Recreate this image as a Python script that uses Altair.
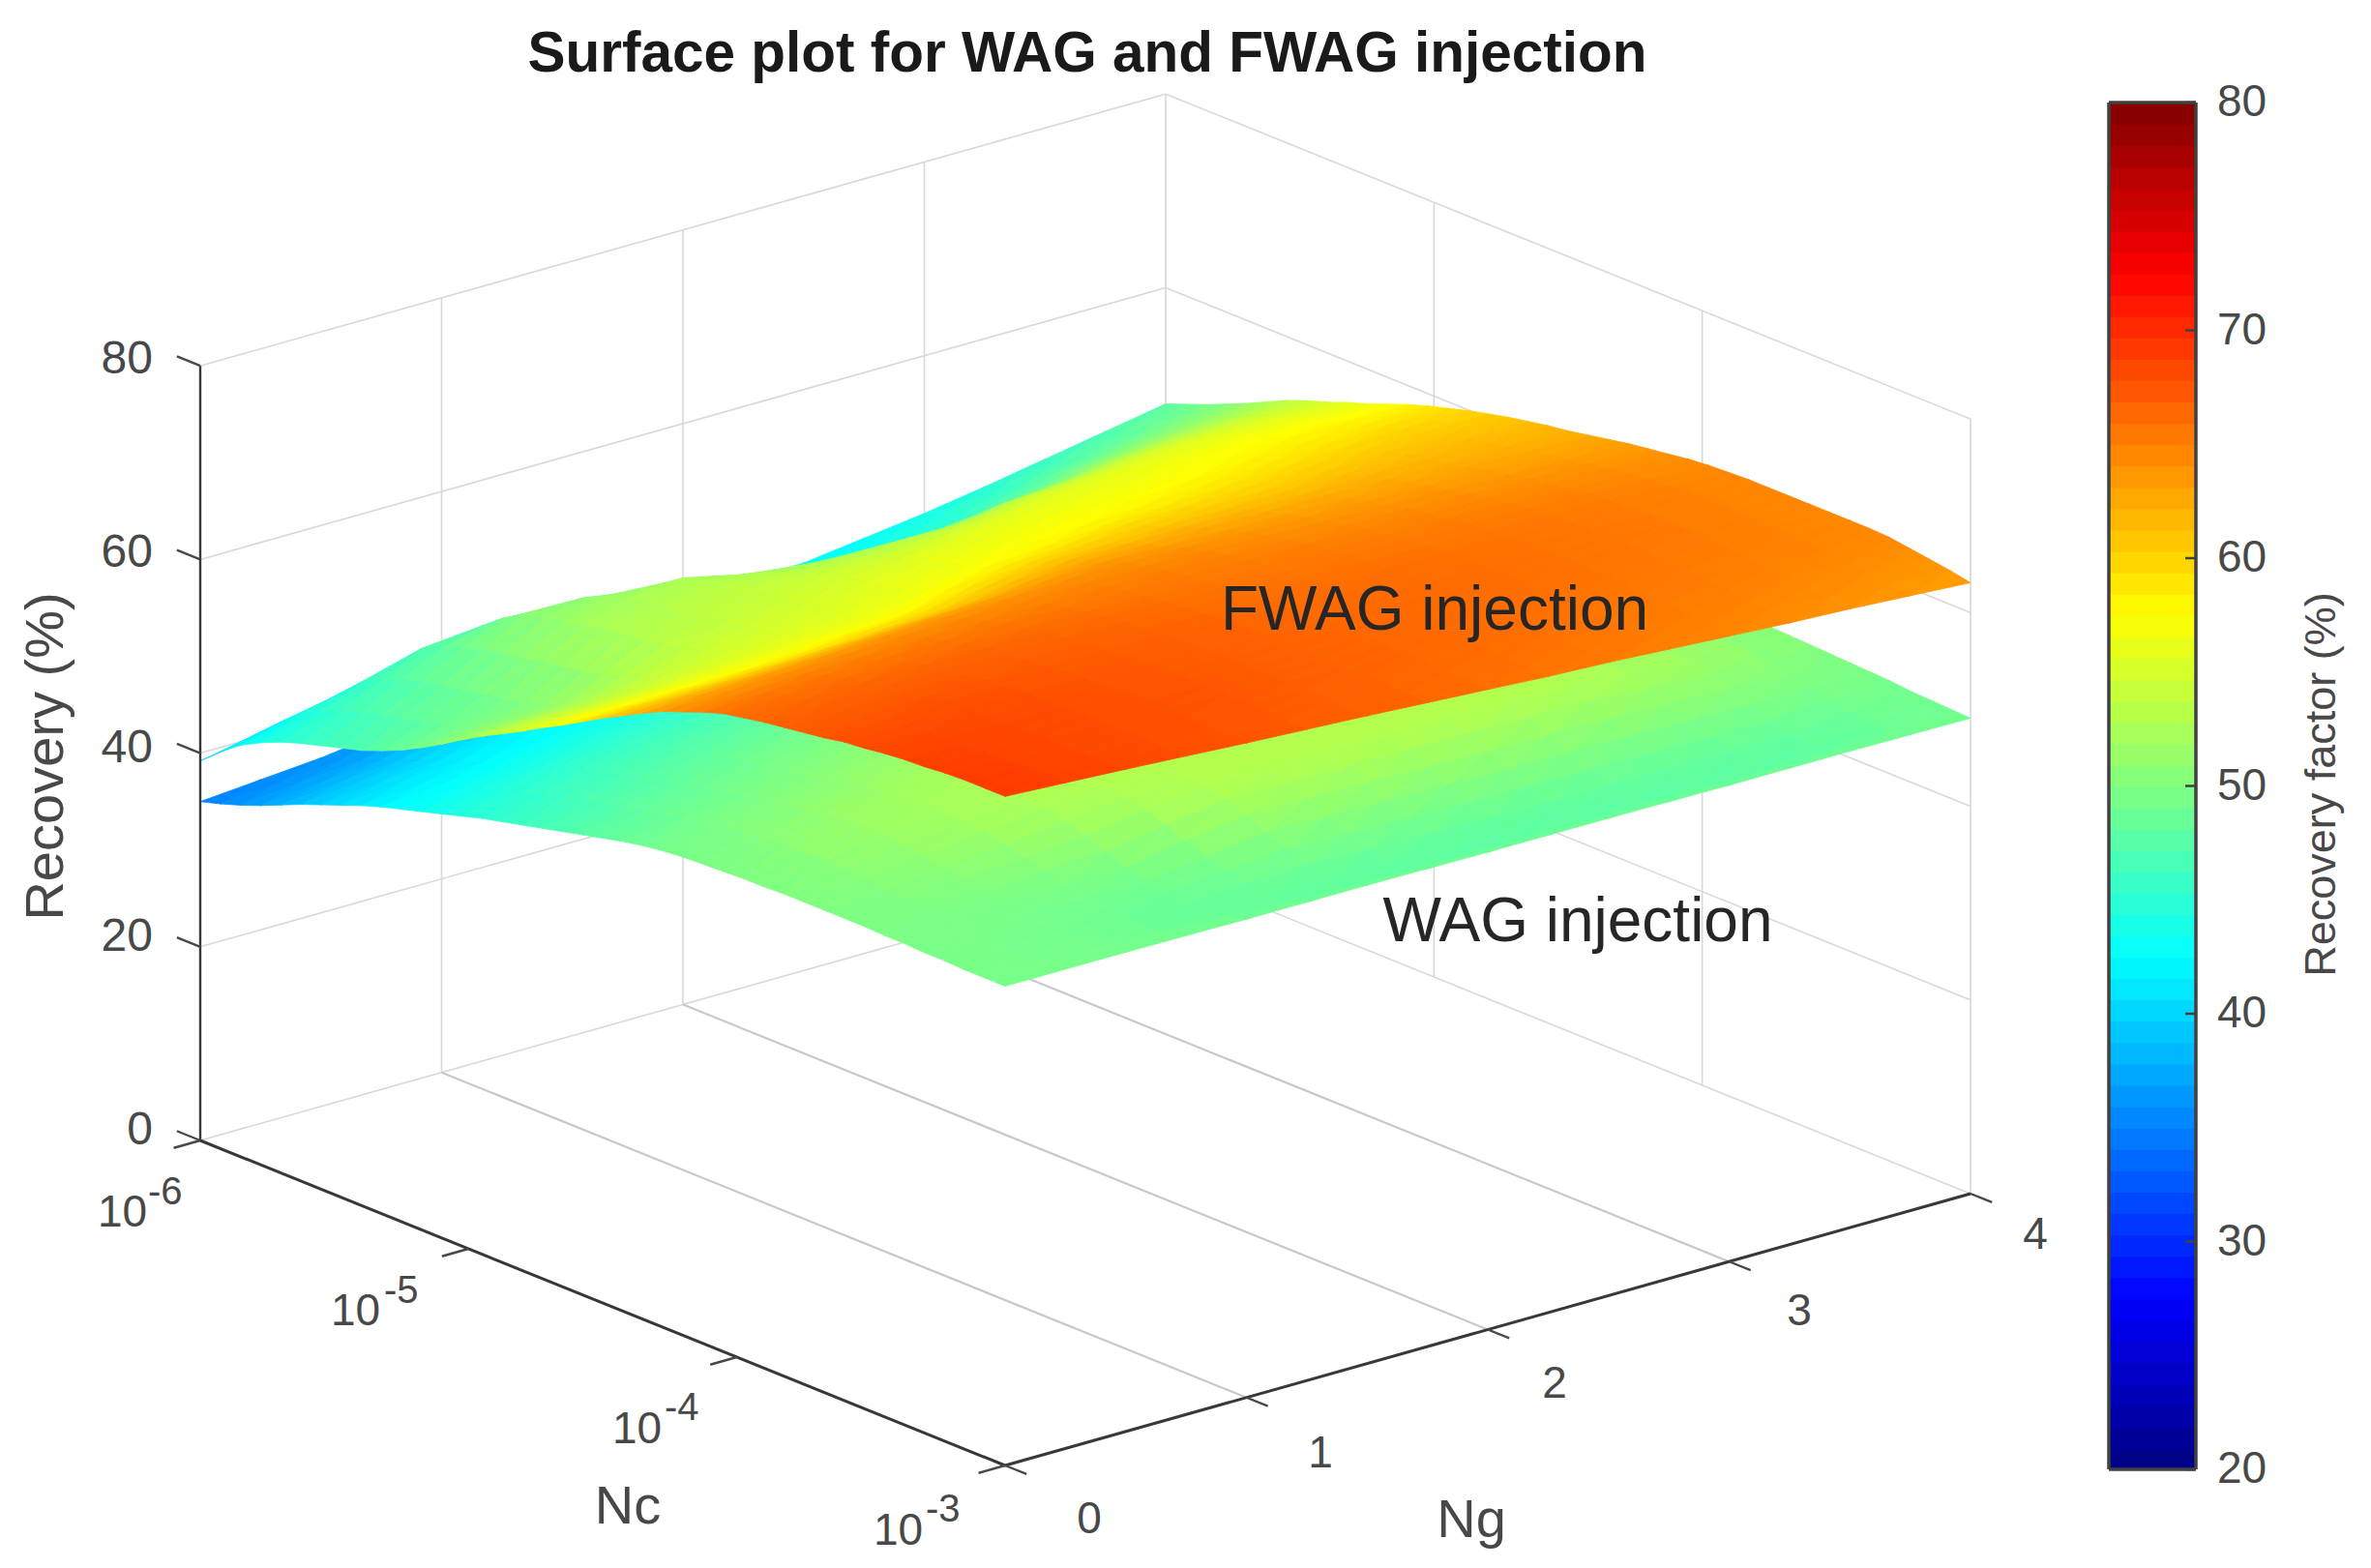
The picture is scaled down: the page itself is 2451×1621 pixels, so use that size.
import altair as alt
import pandas as pd

# ---------- values ----------
LOG_NC = [-6.0 + 0.075 * j for j in range(41)]
NG = [0.25 * k for k in range(17)]

FWAG = [
 [39.2,41,42.5,43.6,44.5,45.2,45.8,46.4,47,47.8,48.7,49.8,51,52.3,53.5,54.6,55.7,56.9,58,59.2,60.4,61.5,62.6,63.6,64.4,65.2,65.9,66.3,66.7,67,67.3,67.6,68,68.2,68.5,68.7,68.8,69,69.1,69.1,69.1],
 [40.1,42.3,44,45.1,46,46.6,47.2,47.7,48.2,48.7,49.4,50.3,51.3,52.5,53.7,54.8,55.9,57,58.1,59.3,60.5,61.7,62.8,63.8,64.6,65.4,66,66.4,66.8,67.1,67.4,67.7,68,68.2,68.4,68.5,68.6,68.6,68.7,68.8,68.75],
 [41,43.5,45.5,46.6,47.5,48,48.5,48.9,49.3,49.6,50,50.7,51.6,52.7,53.8,54.9,56,57.1,58.2,59.4,60.6,61.8,63,64,64.8,65.5,66,66.5,66.9,67.2,67.5,67.8,68,68.2,68.3,68.3,68.3,68.3,68.3,68.4,68.4],
 [41.9,45,47.2,48.2,49,49.5,50,50.4,50.9,51.2,51.5,52.1,52.8,53.6,54.4,55.3,56.2,57.2,58.3,59.5,60.8,62,63.2,64.2,64.9,65.5,66,66.5,66.9,67.1,67.4,67.6,67.8,67.9,68,68,68,68,68,68,68],
 [42.8,45.8,47.8,49.4,50.7,51.1,51.6,52,52.5,52.8,53,53.5,54,54.5,55,55.7,56.5,57.4,58.5,59.7,61,62.3,63.5,64.4,65,65.6,66.1,66.5,66.8,67,67.2,67.4,67.5,67.6,67.7,67.8,67.8,67.8,67.7,67.6,67.6],
 [42.9,45.2,47,48.9,50.6,51.6,52.3,52.7,53.1,53.4,53.7,54,54.5,55,55.4,56,56.8,57.7,58.9,60,61.3,62.6,63.7,64.5,65,65.6,66,66.4,66.7,66.9,67.1,67.2,67.3,67.4,67.4,67.5,67.5,67.4,67.4,67.3,67.25],
 [43,44.2,45.5,47.5,49.6,51.2,52.6,53.2,53.7,54,54.3,54.6,55,55.4,55.8,56.3,57,58,59.2,60.3,61.5,62.8,63.8,64.5,65,65.5,65.9,66.2,66.5,66.7,66.9,67,67,67.1,67.1,67.1,67.1,67,67,66.9,66.9],
 [42.5,43.4,44.4,45.8,47.6,49.6,51.2,52.3,53.1,53.9,54.6,55.1,55.5,56,56.4,57,57.9,58.9,60,61,62.1,63.1,64,64.6,65,65.4,65.7,66,66.2,66.4,66.6,66.7,66.7,66.8,66.8,66.8,66.8,66.7,66.7,66.6,66.5],
 [42,42.6,43.2,44,45.5,48,50.4,51.7,52.9,53.8,54.6,55.4,56,56.5,57,57.7,58.7,59.7,60.7,61.7,62.6,63.4,64.1,64.6,65,65.3,65.5,65.7,65.9,66.1,66.2,66.3,66.4,66.5,66.5,66.5,66.5,66.4,66.3,66.2,66.1],
 [42,42.6,43.2,44,45.4,47.7,50.1,51.6,53,54,55,55.9,56.4,56.9,57.4,58.1,59.1,60,60.8,61.7,62.5,63.2,63.9,64.4,64.8,65.1,65.4,65.6,65.8,66,66.2,66.2,66.3,66.3,66.3,66.3,66.2,66.1,66,65.9,65.7],
 [42.1,42.7,43.3,44,45.3,47.5,50,51.5,53,54.4,55.5,56.3,56.8,57.3,57.8,58.6,59.5,60.3,61,61.8,62.5,63.1,63.7,64.2,64.6,65,65.3,65.6,65.8,66,66.1,66.2,66.2,66.2,66.2,66.1,66,65.9,65.7,65.6,65.4],
 [42.9,43.6,44.3,45.3,46.6,48.5,50.6,52.4,53.9,55.1,56,56.5,57,57.5,58.1,58.8,59.6,60.3,61,61.7,62.4,63,63.5,64,64.4,64.8,65.1,65.4,65.6,65.8,65.9,66,66,66,65.9,65.8,65.7,65.6,65.4,65.2,65],
 [43.7,44.5,45.4,46.7,48,49.5,51.2,52.8,54.2,55.4,56.3,56.8,57.2,57.8,58.4,59.1,59.8,60.4,61.1,61.7,62.4,62.9,63.4,63.9,64.3,64.7,65,65.3,65.5,65.7,65.8,65.8,65.8,65.8,65.7,65.6,65.5,65.3,65.1,64.9,64.6],
 [44.7,45.7,46.7,48,49.3,50.7,52.2,53.6,54.9,55.9,56.6,57.2,57.6,58.2,58.8,59.4,60.1,60.6,61.2,61.8,62.3,62.8,63.3,63.7,64.1,64.5,64.8,65.1,65.3,65.5,65.6,65.6,65.6,65.5,65.4,65.3,65.2,65,64.8,64.6,64.2],
 [45.8,46.8,47.8,49,50.3,51.5,52.8,54,55.1,56,56.7,57.4,58,58.5,59.1,59.7,60.3,60.8,61.3,61.8,62.2,62.7,63.1,63.5,63.9,64.3,64.6,64.9,65.1,65.2,65.3,65.3,65.3,65.2,65.1,65,64.9,64.7,64.5,64.2,63.9],
 [46.9,47.8,48.7,49.8,50.9,52,53.1,54.2,55.1,56,56.6,57.3,58,58.6,59.3,59.9,60.4,60.9,61.3,61.7,62.1,62.5,62.9,63.3,63.7,64.1,64.4,64.6,64.8,64.9,64.9,64.9,64.9,64.9,64.8,64.8,64.7,64.4,64.2,63.8,63.5],
 [48,48.8,49.6,50.5,51.4,52.4,53.4,54.2,54.9,55.7,56.4,57.2,58,58.7,59.3,59.9,60.4,60.9,61.3,61.7,62,62.4,62.8,63.2,63.5,63.8,64.1,64.3,64.4,64.5,64.5,64.5,64.5,64.5,64.5,64.5,64.4,64.1,63.8,63.5,63.1],
]
WAG = [
 [35,35.6,36.3,37.1,38,38.9,39.7,40.5,41.3,42,42.6,43.2,43.8,44.4,45,45.5,46,46.5,47,47.5,48,48.5,48.9,49.2,49.4,49.5,49.6,49.7,49.7,49.8,49.8,49.8,49.8,49.8,49.7,49.7,49.6,49.6,49.5,49.5,49.5],
 [35.5,36.1,36.9,37.7,38.6,39.5,40.3,41.1,41.8,42.5,43.1,43.8,44.5,45.1,45.7,46.2,46.7,47.2,47.7,48.2,48.6,49.1,49.5,49.8,50.1,50.4,50.6,50.7,50.7,50.6,50.4,50.2,50,49.9,49.7,49.6,49.5,49.4,49.4,49.4,49.5],
 [36,36.6,37.4,38.3,39.2,40.1,40.9,41.6,42.2,42.9,43.6,44.4,45.2,45.8,46.4,46.9,47.4,47.9,48.4,48.8,49.2,49.6,50,50.4,50.8,51.2,51.5,51.6,51.6,51.3,51,50.6,50.2,49.9,49.6,49.4,49.3,49.2,49.2,49.3,49.5],
 [36.8,37.4,38.2,39.2,40.1,40.9,41.6,42.2,42.8,43.5,44.2,45,45.7,46.3,46.9,47.5,48,48.5,49,49.4,49.8,50.2,50.6,51,51.4,51.7,52,52.1,52.1,52,51.8,51.3,50.8,50.2,49.7,49.3,49,48.9,48.8,49,49.45],
 [37.5,38.2,39,40,41,41.7,42.3,42.7,43.3,44,44.8,45.5,46.2,46.8,47.4,48,48.5,49,49.5,50,50.4,50.8,51.2,51.6,51.9,52.2,52.4,52.5,52.6,52.6,52.5,52,51.3,50.5,49.7,49.1,48.8,48.5,48.4,48.7,49.4],
 [38,38.7,39.5,40.4,41.2,42,42.7,43.3,43.9,44.7,45.4,46,46.6,47.2,47.7,48.2,48.8,49.2,49.8,50.2,50.6,51,51.3,51.6,52,52.2,52.4,52.6,52.8,52.8,52.8,52.5,52.2,51.5,50.7,49.9,49.3,48.8,48.3,48.5,49.4],
 [38.5,39.2,40,40.8,41.5,42.2,43,43.8,44.5,45.3,46,46.5,47,47.5,48,48.5,49,49.5,50,50.4,50.7,51.1,51.4,51.7,52,52.3,52.5,52.7,52.9,53,53,53,53,52.4,51.6,50.7,49.8,49,48.2,48.3,49.4],
 [38.8,39.4,40,40.8,41.5,42.2,43,43.8,44.5,45.3,46,46.5,47,47.5,48,48.5,49,49.5,50,50.4,50.7,51,51.3,51.6,51.9,52.2,52.4,52.6,52.8,52.9,53,53,53,52.4,51.5,50.5,49.6,48.8,48.1,48.3,49.35],
 [39,39.5,40,40.7,41.5,42.2,43,43.8,44.5,45.3,46,46.5,47,47.5,48,48.5,49,49.5,50,50.4,50.7,51,51.3,51.6,51.8,52.1,52.3,52.5,52.7,52.8,52.9,53,53,52.3,51.4,50.4,49.4,48.6,47.9,48.2,49.3],
 [39.2,39.7,40.2,41,41.7,42.5,43.2,44,44.7,45.4,46,46.5,47,47.5,48,48.5,49,49.5,50,50.4,50.7,51,51.3,51.6,51.8,52,52.2,52.4,52.6,52.8,53,53,53,52.2,51.3,50.3,49.3,48.5,47.9,48.2,49.3],
 [39.5,40,40.5,41.2,42,42.8,43.5,44.3,45,45.5,46,46.5,47,47.5,48,48.5,49,49.5,50,50.4,50.7,51,51.3,51.6,51.8,52,52.2,52.4,52.6,52.8,53,53,53,52.2,51.2,50.2,49.2,48.4,47.9,48.2,49.3],
 [39.8,40.2,40.8,41.5,42.2,43,43.8,44.4,45,45.5,46,46.5,47,47.5,48,48.5,49,49.4,49.9,50.3,50.6,50.9,51.2,51.4,51.6,51.8,52,52.2,52.3,52.6,52.9,52.9,52.9,52.1,51.1,50.1,49.2,48.4,47.9,48.2,49.25],
 [40,40.5,41,41.7,42.5,43.2,44,44.5,45,45.5,46,46.5,47,47.5,48,48.5,49,49.4,49.8,50.2,50.5,50.8,51,51.3,51.5,51.7,51.8,51.9,52,52.4,52.8,52.8,52.8,52,51,50,49.1,48.4,47.9,48.2,49.2],
 [40.2,40.7,41.2,42,42.7,43.4,44,44.5,45,45.5,46,46.5,47,47.5,48,48.4,48.9,49.3,49.7,50,50.2,50.5,50.7,50.9,51.1,51.3,51.5,51.6,51.7,52,52.3,52.3,52.3,51.6,50.8,49.9,49,48.4,47.9,48.2,49.2],
 [40.5,41,41.5,42.2,43,43.5,44,44.5,45,45.5,46,46.5,47,47.5,48,48.4,48.8,49.2,49.5,49.8,50,50.2,50.4,50.6,50.8,51,51.1,51.2,51.3,51.6,51.8,51.8,51.8,51.2,50.6,49.8,49,48.4,47.9,48.3,49.2],
 [40.8,41.2,41.8,42.4,43,43.5,44,44.5,45,45.5,46,46.5,47,47.5,47.9,48.3,48.7,49,49.3,49.6,49.8,50,50.1,50.3,50.5,50.6,50.7,50.8,50.9,51,51,51,50.9,50.5,50.2,49.8,49.3,48.9,48.6,48.7,49.15],
 [41,41.5,42,42.5,43,43.5,44,44.5,45,45.5,46,46.5,47,47.4,47.8,48.2,48.5,48.8,49,49.3,49.5,49.7,49.8,50,50.1,50.2,50.3,50.4,50.4,50.3,50.2,50.1,50,49.9,49.8,49.7,49.6,49.4,49.3,49.2,49.1],
]

Z_TICKS = [0, 20, 40, 60, 80]
NC_TICKS = [-6, -5, -4, -3]
NG_TICKS = [0, 1, 2, 3, 4]
CBAR_TICKS = [20, 30, 40, 50, 60, 70, 80]
JET = ["#000080", "#0000ff", "#0080ff", "#00ffff", "#80ff80", "#ffff00", "#ff8000", "#ff0000", "#800000"]

W, H = 2435, 1605
FONT = "Liberation Sans"
TICK = "#484848"


def P(lognc, ng, z):
    f = (lognc + 6) / 3
    g = ng / 4
    return (207 + 832 * f + 998 * g, 1179 + 336 * f - 281 * g - 10.01 * z)


def seg(a, b):
    return {"x": a[0], "y": a[1], "x2": b[0], "y2": b[1]}


def surface(grid):
    feats = []
    for i in range(len(NG) - 2, -1, -1):
        for j in range(len(LOG_NC) - 1):
            a = (LOG_NC[j], NG[i], grid[i][j])
            b = (LOG_NC[j + 1], NG[i], grid[i][j + 1])
            c = (LOG_NC[j], NG[i + 1], grid[i + 1][j])
            d = (LOG_NC[j + 1], NG[i + 1], grid[i + 1][j + 1])
            for tri in ((c, d, b), (c, b, a)):
                ring = [[round(q, 1) for q in P(*v)] for v in tri]
                ring.append(ring[0])
                feats.append({"type": "Feature",
                              "geometry": {"type": "Polygon", "coordinates": [ring]},
                              "properties": {"z": round(sum(v[2] for v in tri) / 3, 2)}})
    return feats


xs = alt.Scale(domain=[8, 8 + W], range=[0, W], nice=False, zero=False)
ys = alt.Scale(domain=[8, 8 + H], range=[0, H], nice=False, zero=False)
cs = alt.Scale(domain=[20, 80], range=JET, interpolate="rgb")


def rules(rows, color, width):
    return alt.Chart(pd.DataFrame(rows)).mark_rule(color=color, strokeWidth=width).encode(
        x=alt.X("x:Q", scale=xs, axis=None), y=alt.Y("y:Q", scale=ys, axis=None),
        x2="x2:Q", y2="y2:Q")


def texts(rows, size, color=TICK, align="left", baseline="alphabetic", angle=0, weight="normal"):
    return alt.Chart(pd.DataFrame(rows)).mark_text(
        font=FONT, fontSize=size, color=color, align=align, baseline=baseline,
        angle=angle, fontWeight=weight).encode(
        x=alt.X("x:Q", scale=xs, axis=None), y=alt.Y("y:Q", scale=ys, axis=None), text="t:N")


# grid
light, floor_g, floor_f = [], [], []
for z in Z_TICKS:
    light.append(seg(P(-6, 0, z), P(-6, 4, z)))
    light.append(seg(P(-6, 4, z), P(-3, 4, z)))
for n in NG_TICKS[1:]:
    light.append(seg(P(-6, n, 0), P(-6, n, 80)))
    if n < 4:
        floor_g.append(seg(P(-6, n, 0), P(-3, n, 0)))
for c in NC_TICKS[1:]:
    if c > -3:
        floor_f.append(seg(P(c, 0, 0), P(c, 4, 0)))
    light.append(seg(P(c, 4, 0), P(c, 4, 80)))

axis_lines = [seg(P(-6, 0, 0), P(-3, 0, 0)), seg(P(-3, 0, 0), P(-3, 4, 0))]
z_line = [seg(P(-6, 0, 0), P(-6, 0, 80))]
ticks = []
for z in Z_TICKS:
    ticks.append(seg(P(-6, 0, z), P(-6.087, 0, z)))
for c in NC_TICKS:
    ticks.append(seg(P(c, 0, 0), P(c, -0.11, 0)))
for n in NG_TICKS:
    ticks.append(seg(P(-3, n, 0), P(-2.92, n, 0)))

# surfaces
surf_layers = []
for grid in (WAG, FWAG):
    surf_layers.append(
        alt.Chart(alt.Data(values=surface(grid))).mark_geoshape(strokeWidth=0.8).encode(
            color=alt.Color("properties.z:Q", scale=cs, legend=None),
            stroke=alt.Stroke("properties.z:Q", scale=cs, legend=None),
        ).project(type="identity", scale=1, translate=[-8, -8])
    )

# colour bar
CB_X0, CB_X1, CB_TOP, CB_PER = 2180, 2270, 106, 23.55
def cb_y(v):
    return CB_TOP + (80 - v) * CB_PER
levels = []
for k in range(64):
    lo = 20 + 60 * k / 64
    hi = 20 + 60 * (k + 1) / 64
    levels.append({"x": CB_X0, "x2": CB_X1, "y": cb_y(hi), "y2": cb_y(lo) + 1, "z": (lo + hi) / 2})
cbar = alt.Chart(pd.DataFrame(levels)).mark_rect().encode(
    x=alt.X("x:Q", scale=xs, axis=None), y=alt.Y("y:Q", scale=ys, axis=None),
    x2="x2:Q", y2="y2:Q", color=alt.Color("z:Q", scale=cs, legend=None))
frame = [seg((CB_X0, cb_y(80)), (CB_X1, cb_y(80))), seg((CB_X0, cb_y(20)), (CB_X1, cb_y(20))),
         seg((CB_X0, cb_y(80)), (CB_X0, cb_y(20))), seg((CB_X1, cb_y(80)), (CB_X1, cb_y(20)))]
cb_ticks = [seg((CB_X1 - 11, cb_y(v)), (CB_X1, cb_y(v))) for v in CBAR_TICKS]

chart = alt.layer(
    rules(light, "#d8d8d8", 1.6),
    rules(floor_f, "#c8c8c8", 2.2),
    rules(floor_g, "#c8c8c8", 2.2),
    surf_layers[0], surf_layers[1],
    rules(axis_lines, "#383838", 3),
    rules(z_line, "#383838", 2.4),
    rules(ticks, "#484848", 2.4),
    cbar,
    rules(frame, "#404040", 3.5),
    rules(cb_ticks, "#404040", 2.5),
    texts([{"x": 1124, "y": 56, "t": "Surface plot for WAG and FWAG injection"}], 58.5,
          color="#1a1a1a", align="center", baseline="middle", weight="bold"),
    texts([{"x": 1483, "y": 632, "t": "FWAG injection"}], 64, color="#262626", align="center", baseline="middle"),
    texts([{"x": 1631, "y": 954, "t": "WAG injection"}], 64, color="#262626", align="center", baseline="middle"),
    texts([{"x": 158, "y": y, "t": str(z)} for z, y in zip(Z_TICKS, [1169, 969, 774, 572, 372])], 48,
          align="right", baseline="middle"),
    texts([{"x": x, "y": y, "t": "10"} for x, y in zip([101, 342, 633, 903], [1268, 1370, 1492, 1597])], 46),
    texts([{"x": x, "y": y, "t": str(c)} for x, y, c in zip([153, 397, 687, 957], [1245, 1347, 1468, 1573], [-6, -5, -4, -3])], 40),
    texts([{"x": x, "y": y, "t": str(n)} for x, y, n in zip([1126, 1365, 1607, 1860, 2104], [1571, 1503, 1431, 1356, 1277], NG_TICKS)], 46,
          align="center", baseline="middle"),
    texts([{"x": 649, "y": 1558, "t": "Nc"}], 56, align="center", baseline="middle"),
    texts([{"x": 1521, "y": 1572, "t": "Ng"}], 56, align="center", baseline="middle"),
    texts([{"x": 48, "y": 782, "t": "Recovery (%)"}], 56, align="center", baseline="middle", angle=270),
    texts([{"x": 2292, "y": cb_y(v), "t": str(v)} for v in CBAR_TICKS], 46, baseline="middle"),
    texts([{"x": 2400, "y": 811, "t": "Recovery factor (%)"}], 45, align="center", baseline="middle", angle=270),
).properties(width=W, height=H, padding=0, autosize=alt.AutoSizeParams(type="none")).configure_view(stroke=None)

chart.save("out.html", embed_options={"renderer": "svg", "actions": False})
